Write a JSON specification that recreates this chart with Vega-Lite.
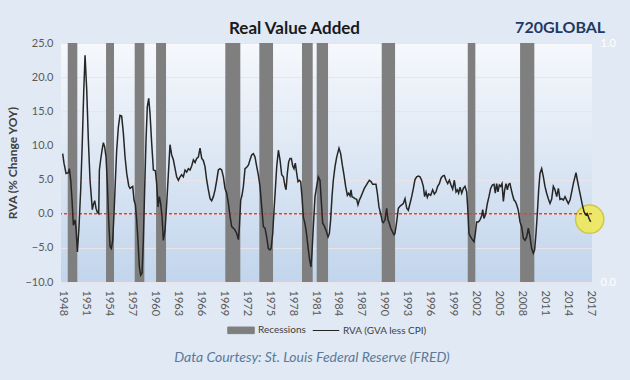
{
  "$schema": "https://vega.github.io/schema/vega-lite/v6.json",
  "width": 531,
  "height": 239,
  "autosize": "none",
  "padding": {"left": 61, "top": 43, "right": 38, "bottom": 98},
  "background": "#e0e9f4",
  "config": {
    "font": "Lato",
    "view": {"stroke": null, "fill": {"gradient": "linear", "x1": 0, "y1": 0, "x2": 0, "y2": 1, "stops": [{"offset": 0, "color": "#f6f8fc"}, {"offset": 1, "color": "#c2d5ec"}]}},
    "axis": {"labelFont": "Lato", "labelColor": "#595959", "labelFontSize": 11, "ticks": false, "domain": false, "grid": false, "labelOverlap": false},
    "legend": {"layout": {"bottom": {"anchor": "middle"}}}
  },
  "title": {"text": "Real Value Added", "font": "Lato", "fontSize": 17, "fontWeight": "bold", "color": "#1a1a1a", "dx": -32, "dy": 26, "offset": 8},
  "datasets": {
    "recessions": [
      {"start": 1948.72, "end": 1949.97, "recession": 1},
      {"start": 1953.72, "end": 1954.76, "recession": 1},
      {"start": 1957.46, "end": 1958.72, "recession": 1},
      {"start": 1960.25, "end": 1961.55, "recession": 1},
      {"start": 1969.29, "end": 1971.25, "recession": 1},
      {"start": 1973.73, "end": 1975.52, "recession": 1},
      {"start": 1979.3, "end": 1980.7, "recession": 1},
      {"start": 1981.22, "end": 1982.7, "recession": 1},
      {"start": 1989.71, "end": 1991.45, "recession": 1},
      {"start": 2000.94, "end": 2001.93, "recession": 1},
      {"start": 2007.77, "end": 2009.63, "recession": 1}
    ],
    "highlight": [{"year": 2016.86, "rva": -0.8}],
    "rva": [
      {"year": 1948.06, "rva": 8.8}, {"year": 1948.23, "rva": 7.4}, {"year": 1948.5, "rva": 5.9}, {"year": 1948.8, "rva": 6.0},
      {"year": 1948.93, "rva": 6.6}, {"year": 1949.11, "rva": 4.9}, {"year": 1949.28, "rva": 2.0}, {"year": 1949.45, "rva": -1.7},
      {"year": 1949.67, "rva": -0.9}, {"year": 1949.8, "rva": -2.1}, {"year": 1949.98, "rva": -5.6}, {"year": 1950.19, "rva": -1.9},
      {"year": 1950.41, "rva": 3.5}, {"year": 1950.63, "rva": 10.8}, {"year": 1950.8, "rva": 17.6}, {"year": 1950.98, "rva": 23.2},
      {"year": 1951.2, "rva": 18.1}, {"year": 1951.41, "rva": 10.8}, {"year": 1951.63, "rva": 4.9}, {"year": 1951.93, "rva": 0.6},
      {"year": 1952.06, "rva": 1.3}, {"year": 1952.24, "rva": 1.9}, {"year": 1952.41, "rva": 0.8}, {"year": 1952.59, "rva": 0.2},
      {"year": 1952.76, "rva": 0.0}, {"year": 1952.85, "rva": 6.4}, {"year": 1953.02, "rva": 7.9}, {"year": 1953.2, "rva": 9.3},
      {"year": 1953.37, "rva": 10.4}, {"year": 1953.54, "rva": 9.8}, {"year": 1953.72, "rva": 8.3}, {"year": 1953.89, "rva": 4.4},
      {"year": 1954.06, "rva": -0.9}, {"year": 1954.24, "rva": -4.8}, {"year": 1954.41, "rva": -5.1}, {"year": 1954.59, "rva": -3.9},
      {"year": 1954.76, "rva": 0.0}, {"year": 1954.94, "rva": 4.9}, {"year": 1955.11, "rva": 9.3}, {"year": 1955.33, "rva": 12.7},
      {"year": 1955.54, "rva": 14.4}, {"year": 1955.76, "rva": 14.3}, {"year": 1955.98, "rva": 11.8}, {"year": 1956.2, "rva": 8.3},
      {"year": 1956.42, "rva": 5.9}, {"year": 1956.68, "rva": 4.1}, {"year": 1956.85, "rva": 3.7}, {"year": 1957.2, "rva": 4.0},
      {"year": 1957.37, "rva": 2.0}, {"year": 1957.55, "rva": 1.3}, {"year": 1957.72, "rva": -0.9}, {"year": 1957.89, "rva": -3.9},
      {"year": 1958.07, "rva": -7.8}, {"year": 1958.24, "rva": -9.0}, {"year": 1958.42, "rva": -8.7}, {"year": 1958.59, "rva": -3.9},
      {"year": 1958.76, "rva": 3.5}, {"year": 1958.94, "rva": 10.8}, {"year": 1959.11, "rva": 15.7}, {"year": 1959.29, "rva": 16.9},
      {"year": 1959.46, "rva": 14.7}, {"year": 1959.68, "rva": 10.3}, {"year": 1959.9, "rva": 6.4}, {"year": 1960.16, "rva": 6.3},
      {"year": 1960.33, "rva": 4.4}, {"year": 1960.51, "rva": 1.0}, {"year": 1960.68, "rva": 2.5}, {"year": 1960.85, "rva": 1.5},
      {"year": 1961.03, "rva": -0.4}, {"year": 1961.2, "rva": -3.9}, {"year": 1961.42, "rva": -2.4}, {"year": 1961.64, "rva": 1.5},
      {"year": 1961.86, "rva": 5.9}, {"year": 1962.07, "rva": 10.1}, {"year": 1962.29, "rva": 8.6}, {"year": 1962.51, "rva": 7.9},
      {"year": 1962.73, "rva": 6.6}, {"year": 1962.94, "rva": 5.4}, {"year": 1963.16, "rva": 4.9}, {"year": 1963.38, "rva": 5.4},
      {"year": 1963.59, "rva": 5.7}, {"year": 1963.81, "rva": 5.4}, {"year": 1964.03, "rva": 6.4}, {"year": 1964.25, "rva": 6.1},
      {"year": 1964.47, "rva": 6.6}, {"year": 1964.68, "rva": 6.4}, {"year": 1964.9, "rva": 7.0}, {"year": 1965.12, "rva": 7.9},
      {"year": 1965.34, "rva": 7.5}, {"year": 1965.55, "rva": 8.1}, {"year": 1965.77, "rva": 8.3}, {"year": 1965.99, "rva": 9.6},
      {"year": 1966.21, "rva": 8.1}, {"year": 1966.42, "rva": 7.8}, {"year": 1966.64, "rva": 6.9}, {"year": 1966.86, "rva": 4.9},
      {"year": 1967.08, "rva": 3.5}, {"year": 1967.3, "rva": 2.2}, {"year": 1967.51, "rva": 1.9}, {"year": 1967.73, "rva": 2.5},
      {"year": 1967.95, "rva": 3.5}, {"year": 1968.17, "rva": 4.9}, {"year": 1968.38, "rva": 6.4}, {"year": 1968.6, "rva": 6.6},
      {"year": 1968.82, "rva": 6.4}, {"year": 1969.04, "rva": 5.4}, {"year": 1969.25, "rva": 3.7}, {"year": 1969.47, "rva": 3.0},
      {"year": 1969.69, "rva": 1.5}, {"year": 1969.91, "rva": -0.4}, {"year": 1970.12, "rva": -1.9}, {"year": 1970.34, "rva": -2.1},
      {"year": 1970.56, "rva": -2.4}, {"year": 1970.78, "rva": -2.9}, {"year": 1971.0, "rva": -3.8}, {"year": 1971.13, "rva": -1.9},
      {"year": 1971.3, "rva": 2.0}, {"year": 1971.47, "rva": 2.7}, {"year": 1971.65, "rva": 4.0}, {"year": 1971.86, "rva": 6.6},
      {"year": 1972.08, "rva": 6.8}, {"year": 1972.3, "rva": 7.1}, {"year": 1972.52, "rva": 7.9}, {"year": 1972.73, "rva": 8.6},
      {"year": 1972.95, "rva": 8.8}, {"year": 1973.17, "rva": 8.3}, {"year": 1973.39, "rva": 6.9}, {"year": 1973.6, "rva": 5.7},
      {"year": 1973.82, "rva": 4.0}, {"year": 1974.04, "rva": 1.0}, {"year": 1974.26, "rva": -1.9}, {"year": 1974.47, "rva": -2.1},
      {"year": 1974.69, "rva": -3.4}, {"year": 1974.91, "rva": -5.1}, {"year": 1975.13, "rva": -5.3}, {"year": 1975.26, "rva": -5.1},
      {"year": 1975.48, "rva": -2.9}, {"year": 1975.65, "rva": 0.5}, {"year": 1975.82, "rva": 3.5}, {"year": 1976.0, "rva": 6.9},
      {"year": 1976.22, "rva": 9.3}, {"year": 1976.43, "rva": 7.9}, {"year": 1976.65, "rva": 5.7}, {"year": 1976.87, "rva": 5.4},
      {"year": 1977.09, "rva": 4.0}, {"year": 1977.22, "rva": 3.5}, {"year": 1977.39, "rva": 5.9}, {"year": 1977.56, "rva": 7.6},
      {"year": 1977.74, "rva": 8.1}, {"year": 1977.91, "rva": 8.1}, {"year": 1978.09, "rva": 7.0}, {"year": 1978.26, "rva": 6.6},
      {"year": 1978.43, "rva": 7.4}, {"year": 1978.61, "rva": 5.9}, {"year": 1978.78, "rva": 4.7}, {"year": 1978.96, "rva": 4.9},
      {"year": 1979.13, "rva": 4.7}, {"year": 1979.3, "rva": 2.5}, {"year": 1979.48, "rva": -0.5}, {"year": 1979.7, "rva": -1.5},
      {"year": 1979.9, "rva": -3.0}, {"year": 1980.1, "rva": -5.0}, {"year": 1980.3, "rva": -6.8}, {"year": 1980.47, "rva": -7.8},
      {"year": 1980.6, "rva": -5.8}, {"year": 1980.78, "rva": -1.9}, {"year": 1981.0, "rva": 2.5}, {"year": 1981.22, "rva": 4.0},
      {"year": 1981.43, "rva": 5.4}, {"year": 1981.65, "rva": 4.9}, {"year": 1981.87, "rva": 1.0}, {"year": 1982.0, "rva": -1.4},
      {"year": 1982.17, "rva": -1.7}, {"year": 1982.43, "rva": -2.4}, {"year": 1982.7, "rva": -3.4}, {"year": 1982.87, "rva": -2.9},
      {"year": 1983.04, "rva": -0.9}, {"year": 1983.22, "rva": 2.5}, {"year": 1983.39, "rva": 4.9}, {"year": 1983.61, "rva": 6.9},
      {"year": 1983.83, "rva": 8.3}, {"year": 1984.13, "rva": 9.6}, {"year": 1984.35, "rva": 8.8}, {"year": 1984.57, "rva": 7.1},
      {"year": 1984.78, "rva": 5.7}, {"year": 1985.0, "rva": 4.0}, {"year": 1985.22, "rva": 2.7}, {"year": 1985.39, "rva": 3.0},
      {"year": 1985.57, "rva": 2.6}, {"year": 1985.7, "rva": 3.5}, {"year": 1985.83, "rva": 2.5}, {"year": 1986.0, "rva": 2.4},
      {"year": 1986.22, "rva": 2.2}, {"year": 1986.44, "rva": 2.1}, {"year": 1986.61, "rva": 1.3}, {"year": 1986.79, "rva": 2.0},
      {"year": 1987.0, "rva": 2.5}, {"year": 1987.22, "rva": 3.1}, {"year": 1987.44, "rva": 3.7}, {"year": 1987.66, "rva": 4.1},
      {"year": 1987.87, "rva": 4.5}, {"year": 1988.09, "rva": 4.9}, {"year": 1988.31, "rva": 4.7}, {"year": 1988.53, "rva": 4.3},
      {"year": 1988.74, "rva": 4.3}, {"year": 1988.96, "rva": 4.3}, {"year": 1989.14, "rva": 3.0}, {"year": 1989.35, "rva": 1.0},
      {"year": 1989.57, "rva": 0.0}, {"year": 1989.79, "rva": -1.2}, {"year": 1989.92, "rva": -1.3}, {"year": 1990.14, "rva": -0.9},
      {"year": 1990.35, "rva": 0.8}, {"year": 1990.53, "rva": -0.9}, {"year": 1990.7, "rva": -1.4}, {"year": 1990.88, "rva": -2.1},
      {"year": 1991.09, "rva": -2.6}, {"year": 1991.31, "rva": -3.1}, {"year": 1991.44, "rva": -2.9}, {"year": 1991.66, "rva": -1.2},
      {"year": 1991.88, "rva": 0.8}, {"year": 1992.09, "rva": 1.1}, {"year": 1992.31, "rva": 1.3}, {"year": 1992.53, "rva": 1.5},
      {"year": 1992.75, "rva": 2.2}, {"year": 1992.97, "rva": 0.8}, {"year": 1993.18, "rva": 0.5}, {"year": 1993.4, "rva": 1.5},
      {"year": 1993.62, "rva": 2.5}, {"year": 1993.84, "rva": 3.7}, {"year": 1994.05, "rva": 5.0}, {"year": 1994.27, "rva": 5.4},
      {"year": 1994.49, "rva": 5.5}, {"year": 1994.71, "rva": 5.4}, {"year": 1994.92, "rva": 4.9}, {"year": 1995.14, "rva": 4.0},
      {"year": 1995.31, "rva": 2.5}, {"year": 1995.49, "rva": 3.2}, {"year": 1995.66, "rva": 2.4}, {"year": 1995.84, "rva": 2.9},
      {"year": 1996.1, "rva": 2.7}, {"year": 1996.36, "rva": 3.5}, {"year": 1996.58, "rva": 2.9}, {"year": 1996.79, "rva": 3.2},
      {"year": 1997.01, "rva": 4.0}, {"year": 1997.23, "rva": 4.4}, {"year": 1997.45, "rva": 5.2}, {"year": 1997.66, "rva": 5.5},
      {"year": 1997.88, "rva": 5.6}, {"year": 1998.1, "rva": 4.9}, {"year": 1998.32, "rva": 4.4}, {"year": 1998.54, "rva": 4.9},
      {"year": 1998.75, "rva": 4.2}, {"year": 1998.97, "rva": 3.6}, {"year": 1999.19, "rva": 4.9}, {"year": 1999.41, "rva": 3.2},
      {"year": 1999.58, "rva": 3.5}, {"year": 1999.75, "rva": 3.0}, {"year": 1999.93, "rva": 3.9}, {"year": 2000.15, "rva": 3.0},
      {"year": 2000.36, "rva": 3.7}, {"year": 2000.58, "rva": 4.0}, {"year": 2000.8, "rva": 3.2}, {"year": 2000.93, "rva": 1.0},
      {"year": 2001.1, "rva": -2.9}, {"year": 2001.32, "rva": -3.4}, {"year": 2001.54, "rva": -3.8}, {"year": 2001.76, "rva": -4.1},
      {"year": 2001.93, "rva": -2.9}, {"year": 2002.1, "rva": -1.2}, {"year": 2002.32, "rva": -1.2}, {"year": 2002.54, "rva": -0.9},
      {"year": 2002.76, "rva": -0.3}, {"year": 2002.89, "rva": 0.6}, {"year": 2003.06, "rva": -0.7}, {"year": 2003.28, "rva": 0.0},
      {"year": 2003.5, "rva": 1.5}, {"year": 2003.71, "rva": 2.5}, {"year": 2003.93, "rva": 3.7}, {"year": 2004.15, "rva": 4.2},
      {"year": 2004.37, "rva": 4.3}, {"year": 2004.54, "rva": 3.0}, {"year": 2004.71, "rva": 4.4}, {"year": 2004.89, "rva": 3.2},
      {"year": 2005.06, "rva": 4.2}, {"year": 2005.24, "rva": 4.0}, {"year": 2005.41, "rva": 4.4}, {"year": 2005.59, "rva": 1.8},
      {"year": 2005.76, "rva": 3.5}, {"year": 2005.93, "rva": 4.4}, {"year": 2006.11, "rva": 3.5}, {"year": 2006.28, "rva": 4.3},
      {"year": 2006.45, "rva": 4.4}, {"year": 2006.63, "rva": 3.5}, {"year": 2006.8, "rva": 2.7}, {"year": 2006.98, "rva": 2.0},
      {"year": 2007.15, "rva": 1.8}, {"year": 2007.33, "rva": 1.3}, {"year": 2007.54, "rva": 0.5}, {"year": 2007.76, "rva": -1.2},
      {"year": 2007.98, "rva": -1.9}, {"year": 2008.2, "rva": -3.6}, {"year": 2008.41, "rva": -3.9}, {"year": 2008.63, "rva": -3.4},
      {"year": 2008.85, "rva": -2.1}, {"year": 2009.07, "rva": -3.4}, {"year": 2009.28, "rva": -5.1}, {"year": 2009.5, "rva": -5.8},
      {"year": 2009.67, "rva": -5.3}, {"year": 2009.85, "rva": -2.9}, {"year": 2010.02, "rva": 0.0}, {"year": 2010.2, "rva": 3.5},
      {"year": 2010.37, "rva": 5.9}, {"year": 2010.59, "rva": 6.6}, {"year": 2010.81, "rva": 5.4}, {"year": 2011.02, "rva": 4.0},
      {"year": 2011.24, "rva": 3.0}, {"year": 2011.46, "rva": 2.2}, {"year": 2011.68, "rva": 1.5}, {"year": 2011.89, "rva": 2.1},
      {"year": 2012.11, "rva": 4.0}, {"year": 2012.33, "rva": 3.5}, {"year": 2012.55, "rva": 2.5}, {"year": 2012.77, "rva": 3.7},
      {"year": 2012.98, "rva": 2.1}, {"year": 2013.2, "rva": 2.2}, {"year": 2013.42, "rva": 2.0}, {"year": 2013.64, "rva": 2.5},
      {"year": 2013.85, "rva": 2.0}, {"year": 2014.07, "rva": 1.5}, {"year": 2014.29, "rva": 2.0}, {"year": 2014.51, "rva": 3.2},
      {"year": 2014.72, "rva": 4.4}, {"year": 2014.94, "rva": 5.4}, {"year": 2015.07, "rva": 6.0}, {"year": 2015.25, "rva": 4.9},
      {"year": 2015.46, "rva": 3.7}, {"year": 2015.68, "rva": 2.5}, {"year": 2015.9, "rva": 1.3}, {"year": 2016.12, "rva": 0.3},
      {"year": 2016.38, "rva": -0.2}, {"year": 2016.55, "rva": 0.0}, {"year": 2016.77, "rva": -0.7}, {"year": 2016.99, "rva": -1.2}
    ]
  },
  "layer": [
    {
      "data": {"name": "recessions"},
      "mark": {"type": "rect"},
      "encoding": {
        "x": {"field": "start", "type": "quantitative", "scale": {"domain": [1947.84, 2017.16], "nice": false, "zero": false},
          "axis": {"values": [1948, 1951, 1954, 1957, 1960, 1963, 1966, 1969, 1972, 1975, 1978, 1981, 1984, 1987, 1990, 1993, 1996, 1999, 2002, 2005, 2008, 2011, 2014, 2017], "tickCount": 100, "format": "d", "labelAngle": 90, "labelPadding": 8, "labelOverlap": false, "title": null}},
        "x2": {"field": "end"},
        "y": {"field": "recession", "type": "quantitative", "scale": {"domain": [0, 1], "nice": false, "zero": false},
          "axis": {"orient": "right", "values": [0, 1], "tickCount": 100, "format": ".1f", "labelColor": "#ffffff", "labelFontSize": 11, "labelPadding": 8, "labelOverlap": false, "title": null}},
        "y2": {"datum": 0},
        "color": {"datum": "Recessions", "type": "nominal",
          "scale": {"domain": ["Recessions", "RVA (GVA less CPI)"], "range": ["#7f7f7f", "#262626"]},
          "legend": {"title": null, "orient": "bottom", "direction": "horizontal", "offset": 0, "labelFont": "Lato", "labelFontSize": 10, "labelColor": "#404040", "symbolSize": 700, "labelOffset": 3, "columnPadding": 4,
            "encoding": {"symbols": {
              "shape": {"value": {"expr": "datum.value === 'Recessions' ? 'M-1,-0.25H1V0.25H-1Z' : 'M-1,0H1'"}},
              "fill": {"value": {"expr": "datum.value === 'Recessions' ? '#7f7f7f' : 'transparent'"}},
              "stroke": {"value": {"expr": "datum.value === 'Recessions' ? 'transparent' : '#404040'"}},
              "strokeWidth": {"value": 1}
            }}}
        }
      }
    },
    {
      "layer": [
        {
          "data": {"name": "highlight"},
          "mark": {"type": "circle", "fill": "#efe85a", "stroke": "#cfc437", "strokeWidth": 1.5, "size": 800, "opacity": 0.9},
          "encoding": {
            "x": {"field": "year", "type": "quantitative", "scale": {"domain": [1947.84, 2017.16], "nice": false, "zero": false}},
            "y": {"field": "rva", "type": "quantitative", "scale": {"domain": [-10, 25], "nice": false, "zero": false}}
          }
        },
        {
          "data": {"name": "highlight"},
          "mark": {"type": "rule", "color": "#c0504d", "strokeDash": [3, 2], "strokeWidth": 1.5},
          "encoding": {
            "y": {"datum": 0, "type": "quantitative", "scale": {"domain": [-10, 25], "nice": false, "zero": false}}
          }
        },
        {
          "data": {"name": "rva"},
          "mark": {"type": "line", "strokeWidth": 1.5},
          "encoding": {
            "x": {"field": "year", "type": "quantitative", "scale": {"domain": [1947.84, 2017.16], "nice": false, "zero": false}},
            "y": {"field": "rva", "type": "quantitative", "scale": {"domain": [-10, 25], "nice": false, "zero": false},
              "axis": {"values": [-10, -5, 0, 5, 10, 15, 20, 25], "tickCount": 100, "format": ".1f", "grid": true, "gridColor": "#e9e4e8", "gridWidth": 1, "labelPadding": 8, "labelOverlap": false,
                "title": "RVA (% Change YOY)", "titleFont": "Lato", "titleFontSize": 12, "titleFontWeight": "bold", "titleColor": "#404040", "titlePadding": 5}},
            "color": {"datum": "RVA (GVA less CPI)", "type": "nominal"}
          }
        },
        {
          "data": {"name": "highlight"},
          "mark": {"type": "text", "text": "720GLOBAL", "font": "Lato", "fontSize": 16, "fontWeight": "bold", "color": "#1f3864", "align": "center", "baseline": "middle"},
          "encoding": {
            "x": {"datum": 2013.0, "type": "quantitative", "scale": {"domain": [1947.84, 2017.16], "nice": false, "zero": false}},
            "y": {"datum": 27.15, "type": "quantitative", "scale": {"domain": [-10, 25], "nice": false, "zero": false}}
          }
        },
        {
          "data": {"name": "highlight"},
          "mark": {"type": "text", "text": "Data Courtesy: St. Louis Federal Reserve (FRED)", "font": "Lato", "fontSize": 14, "fontStyle": "italic", "color": "#5b7a99", "align": "center", "baseline": "middle"},
          "encoding": {
            "x": {"datum": 1980.6, "type": "quantitative", "scale": {"domain": [1947.84, 2017.16], "nice": false, "zero": false}},
            "y": {"datum": -21.2, "type": "quantitative", "scale": {"domain": [-10, 25], "nice": false, "zero": false}}
          }
        }
      ]
    }
  ],
  "resolve": {"scale": {"y": "independent"}}
}
